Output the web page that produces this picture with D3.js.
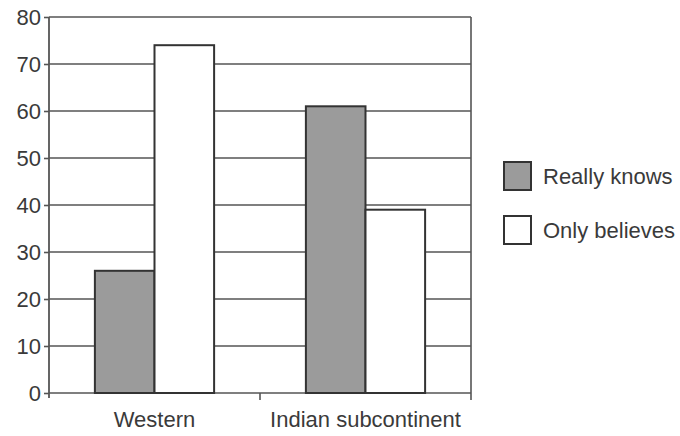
<!DOCTYPE html>
<html><head><meta charset="utf-8">
<script src="https://cdn.jsdelivr.net/npm/d3@7"></script>
<style>body{margin:0;background:#fff}svg{display:block}</style>
</head><body>
<script>
const categories = ["Western", "Indian subcontinent"];
const seriesNames = ["Really knows", "Only believes"];
const reallyKnows = [26, 61];
const onlyBelieves = [74, 39];
const yTicks = [0, 10, 20, 30, 40, 50, 60, 70, 80];
const colors = ["#9b9b9b", "#ffffff"];

const W = 680, H = 436;
const m = {left: 49, right: 209, top: 17, bottom: 43};
const svg = d3.select("body").append("svg").attr("width", W).attr("height", H)
  .style("font-family", "'Liberation Sans', Arial, sans-serif");

const x = d3.scaleBand().domain(categories).range([m.left, W - m.right]).paddingInner(0).paddingOuter(0);
const y = d3.scaleLinear().domain([0, 80]).range([H - m.bottom, m.top]);
const inner = d3.scaleBand().domain(seriesNames).range([0, x.bandwidth() * 0.565]);
const off = x.bandwidth() * (1 - 0.565) / 2;

const ink = "#3a3a3a";
// gridlines
svg.append("g").selectAll("line").data(yTicks).join("line")
  .attr("x1", m.left).attr("x2", W - m.right)
  .attr("y1", d => y(d)).attr("y2", d => y(d))
  .attr("stroke", "#555").attr("stroke-width", 1.6);
// right border
svg.append("line").attr("x1", W - m.right).attr("x2", W - m.right)
  .attr("y1", y(80)).attr("y2", y(0) + 7).attr("stroke", "#555").attr("stroke-width", 1.6);

// y axis
const ya = svg.append("g").attr("transform", `translate(${m.left},0)`)
  .call(d3.axisLeft(y).tickValues(yTicks).tickSize(5).tickPadding(3));
ya.select(".domain").attr("stroke", "#555").attr("stroke-width", 1.8).attr("d", `M0,${y(80)}V${y(0)+5}`);
ya.selectAll(".tick line").attr("stroke", "#555").attr("stroke-width", 1.6);
ya.selectAll("text").attr("font-size", 22).attr("fill", ink).attr("dy", "0.36em").style("font-family", "'Liberation Sans', Arial, sans-serif");

// x axis
const xa = svg.append("g").attr("transform", `translate(0,${y(0)})`)
  .call(d3.axisBottom(x).tickSize(0).tickPadding(18));
xa.select(".domain").remove();
xa.selectAll("text").attr("font-size", 22).attr("fill", ink).style("font-family", "'Liberation Sans', Arial, sans-serif");
// category separator tick
svg.append("line").attr("x1", x(categories[1])).attr("x2", x(categories[1]))
  .attr("y1", y(0)).attr("y2", y(0) + 7).attr("stroke", "#555").attr("stroke-width", 1.6);

// bars
const data = categories.map((c, i) => ({c, vals: [reallyKnows[i], onlyBelieves[i]]}));
const g = svg.append("g").selectAll("g").data(data).join("g")
  .attr("transform", d => `translate(${x(d.c) + off},0)`);
g.selectAll("rect").data(d => d.vals.map((v, j) => ({v, j}))).join("rect")
  .attr("x", d => inner(seriesNames[d.j]))
  .attr("width", inner.bandwidth())
  .attr("y", d => y(d.v))
  .attr("height", d => y(0) - y(d.v))
  .attr("fill", d => colors[d.j])
  .attr("stroke", "#333").attr("stroke-width", 2);

// legend
const lg = svg.append("g").attr("transform", "translate(504,162)");
const li = lg.selectAll("g").data(seriesNames).join("g")
  .attr("transform", (d, i) => `translate(0,${i * 54})`);
li.append("rect").attr("width", 27).attr("height", 28)
  .attr("fill", (d, i) => colors[i]).attr("stroke", "#333").attr("stroke-width", 2);
li.append("text").attr("x", 39).attr("y", 22).text(d => d)
  .attr("font-size", 22).attr("fill", ink);
</script>
</body></html>
